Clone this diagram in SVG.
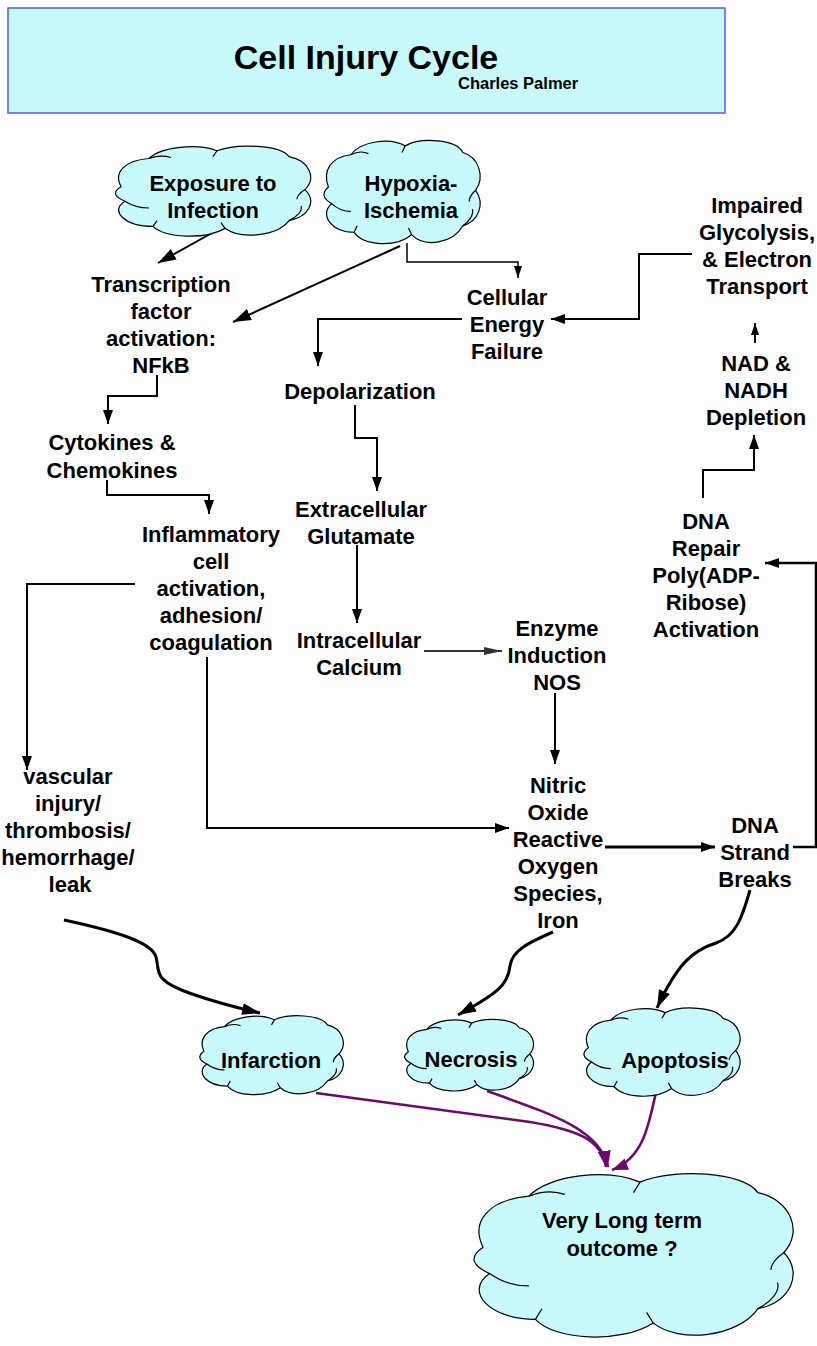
<svg xmlns="http://www.w3.org/2000/svg" width="817" height="1346" viewBox="0 0 817 1346">
<style>
.t{font-family:"Liberation Sans",Arial,sans-serif;font-weight:bold;font-size:22px;fill:#000;text-anchor:middle}
.cloud{fill:#c8fafb;stroke:#000;stroke-width:1.2;vector-effect:non-scaling-stroke;stroke-linejoin:round}
.crease{fill:none;stroke:#000;stroke-width:1.2;vector-effect:non-scaling-stroke}
.ln{fill:none;stroke:#000;stroke-width:2}
.pl{fill:none;stroke:#6a0a6a;stroke-width:2.6}
</style>
<defs>
<marker id="aL" markerUnits="userSpaceOnUse" markerWidth="20" markerHeight="14" refX="18" refY="6" orient="auto"><path d="M0,0 L18,6 L0,12 z" fill="#000"/></marker>
<marker id="aM" markerUnits="userSpaceOnUse" markerWidth="16" markerHeight="12" refX="14" refY="5" orient="auto"><path d="M0,0 L14,5 L0,10 z" fill="#000"/></marker>
<marker id="aS" markerUnits="userSpaceOnUse" markerWidth="14" markerHeight="10" refX="12" refY="4" orient="auto"><path d="M0,0 L12,4 L0,8 z" fill="#000"/></marker>
<marker id="aG" markerUnits="userSpaceOnUse" markerWidth="20" markerHeight="10" refX="18" refY="4" orient="auto"><path d="M0,0 L18,4 L0,8 z" fill="#333"/></marker>
<marker id="aP" markerUnits="userSpaceOnUse" markerWidth="18" markerHeight="14" refX="16" refY="6" orient="auto"><path d="M0,0 L16,6 L0,12 z" fill="#6a0a6a"/></marker>
<g id="cloudShape">
<path class="cloud" d="M4,45 C0,30 6,18 18,16 C24,4 42,0 52,8 C62,0 84,2 88,14 C98,18 102,36 96,48 C102,60 98,76 88,80 C82,96 64,100 56,88 C46,100 26,98 20,86 C6,86 -2,70 6,60 C0,55 0,50 4,45 Z"/>
<path class="crease" d="M18,16 C22,13 26,13 29,15 M52,8 L50,14 M88,80 C92,76 95,70 94,65 M56,88 L54,82 M20,86 L22,80 M6,60 C9,64 13,67 18,67 M96,48 C93,52 92,55 92,58"/>
</g>
</defs>

<g id="title">
<rect x="8" y="8" width="717" height="105" fill="#c8fafb" stroke="#5a5ae6" stroke-width="1.5"/>
<text class="t" x="366" y="69" style="font-size:34px">Cell Injury Cycle</text>
<text class="t" x="458" y="89" style="font-size:16.5px;text-anchor:start">Charles Palmer</text>
</g>

<g id="connectors">
<path class="ln" d="M212,233 L158,263" marker-end="url(#aL)"/>
<path class="ln" d="M400,246 L233,322" marker-end="url(#aL)"/>
<path class="ln" style="stroke-width:1.5" d="M407,243 V262 H518 V278" marker-end="url(#aS)"/>
<path class="ln" d="M692,254 H639 V319 H551" marker-end="url(#aM)"/>
<path class="ln" d="M462,319 H318 V366" marker-end="url(#aM)"/>
<path class="ln" d="M157,375 V396 H108 V424" marker-end="url(#aM)"/>
<path class="ln" d="M107,480 V495 H209 V514" marker-end="url(#aM)"/>
<path class="ln" d="M355,405 V438 H377 V491" marker-end="url(#aM)"/>
<path class="ln" d="M357,545 V623" marker-end="url(#aM)"/>
<path class="ln" d="M135,584 H27 V770" marker-end="url(#aM)"/>
<path class="ln" d="M207,657 V828 H509" marker-end="url(#aM)"/>
<path class="ln" style="stroke:#333" d="M424,651 H502" marker-end="url(#aG)"/>
<path class="ln" d="M555,693 V764" marker-end="url(#aM)"/>
<path class="ln" style="stroke-width:3" d="M605,847 H715" marker-end="url(#aM)"/>
<path class="ln" style="stroke-width:2.5" d="M793,847 H816 V563 H765" marker-end="url(#aM)"/>
<path class="ln" d="M703,498 V470 H754 V435" marker-end="url(#aM)"/>
<path class="ln" d="M755,343 V323" marker-end="url(#aS)"/>
<path class="ln" style="stroke-width:3" d="M64,920 C120,932 152,943 156,957 C160,972 152,980 192,994 C215,1002 238,1008 260,1013" marker-end="url(#aL)"/>
<path class="ln" style="stroke-width:3" d="M553,932 C530,942 512,950 510,966 C508,984 500,992 458,1015" marker-end="url(#aL)"/>
<path class="ln" style="stroke-width:3" d="M750,890 C742,918 736,936 716,943 C694,950 678,962 657,1008" marker-end="url(#aL)"/>
<path class="pl" d="M316,1093 L530,1122 C578,1130 602,1140 606,1167" marker-end="url(#aP)"/>
<path class="pl" d="M487,1091 C545,1112 600,1128 608,1167" marker-end="url(#aP)"/>
<path class="pl" d="M656,1092 C648,1130 642,1158 612,1170" marker-end="url(#aP)"/>
</g>

<g id="exposure">
<use href="#cloudShape" transform="translate(113,143) scale(2.0,0.97)"/>
<text class="t" x="213" y="191">Exposure to</text>
<text class="t" x="213" y="218">Infection</text>
</g>
<g id="hypoxia">
<use href="#cloudShape" transform="translate(322,137) scale(1.6,1.11)"/>
<text class="t" x="411" y="191">Hypoxia-</text>
<text class="t" x="411" y="218">Ischemia</text>
</g>
<g id="impaired">
<text class="t" x="757" y="213">Impaired</text>
<text class="t" x="757" y="240">Glycolysis,</text>
<text class="t" x="757" y="267">&amp; Electron</text>
<text class="t" x="757" y="294">Transport</text>
</g>
<g id="transcription">
<text class="t" x="161" y="292">Transcription</text>
<text class="t" x="161" y="319">factor</text>
<text class="t" x="161" y="346">activation:</text>
<text class="t" x="161" y="373">NFkB</text>
</g>
<g id="energy">
<text class="t" x="507" y="305">Cellular</text>
<text class="t" x="507" y="332">Energy</text>
<text class="t" x="507" y="359">Failure</text>
</g>
<g id="nad">
<text class="t" x="756" y="371">NAD &amp;</text>
<text class="t" x="756" y="398">NADH</text>
<text class="t" x="756" y="425">Depletion</text>
</g>
<g id="depolarization">
<text class="t" x="360" y="399">Depolarization</text>
</g>
<g id="cytokines">
<text class="t" x="112" y="450">Cytokines &amp;</text>
<text class="t" x="112" y="478">Chemokines</text>
</g>
<g id="glutamate">
<text class="t" x="361" y="517">Extracellular</text>
<text class="t" x="361" y="544">Glutamate</text>
</g>
<g id="inflammatory">
<text class="t" x="211" y="542">Inflammatory</text>
<text class="t" x="211" y="569">cell</text>
<text class="t" x="211" y="596">activation,</text>
<text class="t" x="211" y="623">adhesion/</text>
<text class="t" x="211" y="650">coagulation</text>
</g>
<g id="dnarepair">
<text class="t" x="706" y="529">DNA</text>
<text class="t" x="706" y="556">Repair</text>
<text class="t" x="706" y="583">Poly(ADP-</text>
<text class="t" x="706" y="610">Ribose)</text>
<text class="t" x="706" y="637">Activation</text>
</g>
<g id="calcium">
<text class="t" x="359" y="648">Intracellular</text>
<text class="t" x="359" y="675">Calcium</text>
</g>
<g id="enzyme">
<text class="t" x="557" y="636">Enzyme</text>
<text class="t" x="557" y="663">Induction</text>
<text class="t" x="557" y="690">NOS</text>
</g>
<g id="vascular">
<text class="t" x="68" y="784">vascular</text>
<text class="t" x="68" y="811">injury/</text>
<text class="t" x="68" y="838">thrombosis/</text>
<text class="t" x="68" y="865">hemorrhage/</text>
<text class="t" x="70" y="892">leak</text>
</g>
<g id="nitric">
<text class="t" x="558" y="793">Nitric</text>
<text class="t" x="558" y="820">Oxide</text>
<text class="t" x="558" y="847">Reactive</text>
<text class="t" x="558" y="874">Oxygen</text>
<text class="t" x="558" y="901">Species,</text>
<text class="t" x="558" y="928">Iron</text>
</g>
<g id="dnastrand">
<text class="t" x="755" y="833">DNA</text>
<text class="t" x="755" y="860">Strand</text>
<text class="t" x="755" y="887">Breaks</text>
</g>
<g id="infarction">
<use href="#cloudShape" transform="translate(198,1013) scale(1.47,0.85)"/>
<text class="t" x="271" y="1068">Infarction</text>
</g>
<g id="necrosis">
<use href="#cloudShape" transform="translate(403,1017) scale(1.32,0.77)"/>
<text class="t" x="471" y="1067">Necrosis</text>
</g>
<g id="apoptosis">
<use href="#cloudShape" transform="translate(582,1005) scale(1.6,0.95)"/>
<text class="t" x="675" y="1068">Apoptosis</text>
</g>
<g id="outcome">
<use href="#cloudShape" transform="translate(470,1168) scale(3.27,1.76)"/>
<text class="t" x="622" y="1228">Very Long term</text>
<text class="t" x="622" y="1256">outcome ?</text>
</g>
</svg>
